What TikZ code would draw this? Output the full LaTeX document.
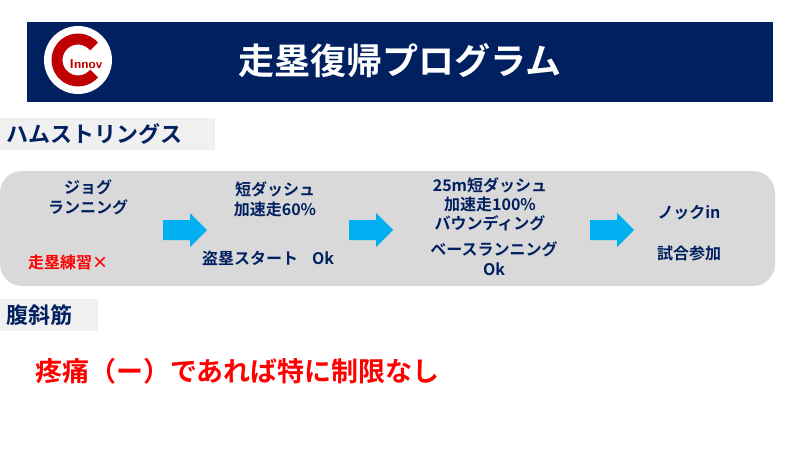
\documentclass[tikz,border=0pt]{standalone}
\usepackage{fontspec}
\setmainfont{Noto Sans CJK JP}[BoldFont={* Bold}]
\newfontfamily\jpb{Noto Sans CJK JP Bold}
\definecolor{navy}{RGB}{0,32,96}
\definecolor{band}{RGB}{217,217,217}
\definecolor{lab}{RGB}{240,240,240}
\definecolor{cyanarr}{RGB}{0,176,240}
\definecolor{logored}{RGB}{192,0,0}
\begin{document}
\begin{tikzpicture}[x=1pt,y=-1pt,
  txt/.style={text=navy,font=\jpb\fontsize{16}{20}\selectfont,align=center,inner sep=0},
  redt/.style={text=red,font=\jpb\fontsize{16}{20}\selectfont,inner sep=0},
  arr/.style={fill=cyanarr,draw=none}]
\useasboundingbox (0,0) rectangle (800,450);
\fill[white] (0,0) rectangle (800,450);
% title bar
\fill[navy] (27,22) rectangle (773,102);
\node[inner sep=0,text=white,font=\jpb\fontsize{36}{40}\selectfont] (title) at (400,61) {走塁復帰プログラム};
% logo
\begin{scope}[shift={(78,60)},y=1pt]
\fill[white] (0,0) circle (34);
\draw[logored,line width=11] (40:21) arc[start angle=40,end angle=320,radius=21];
\end{scope}
\node[inner sep=0.5,fill=white,text=logored,font=\bfseries\sffamily\fontsize{13}{14}\selectfont] (logo) at (86,64) {Innov};
% section labels
\fill[lab] (0,118) rectangle (215,150);
\node[anchor=west,txt,font=\jpb\fontsize{22}{26}\selectfont] (ham) at (6,134) {ハムストリングス};
\fill[band,rounded corners=22] (0,171) rectangle (775,286);
% col1
\node[txt] (c1) at (88,197) {ジョグ\\ランニング};
\node[redt] (c1b) at (68,262) {走塁練習\texttimes};
% arrows
\foreach \x/\n in {163/a1,349/a2,590/a3}{
  \fill[arr] (\x,220) -- (\x+27,220) -- (\x+27,213) -- (\x+44,230) -- (\x+27,247) -- (\x+27,240) -- (\x,240) -- cycle;}
% col2
\node[txt] (c2) at (275,199) {短ダッシュ\\加速走60\%};
\node[txt] (c2b) at (268,258) {盗塁スタート\hspace{14pt}Ok};
% col3
\node[txt,font=\jpb\fontsize{16}{19}\selectfont] (c3) at (490,204) {25m短ダッシュ\\加速走100\%\\バウンディング};
\node[txt] (c3b) at (494,259) {ベースランニング\\Ok};
% col4
\node[txt] (c4) at (689,213) {ノックin};
\node[txt] (c4b) at (689,253) {試合参加};
% abdominal
\fill[lab] (0,299) rectangle (98,331);
\node[anchor=west,txt,font=\jpb\fontsize{22}{26}\selectfont] (abd) at (6,315) {腹斜筋};
\node[anchor=west,text=red,inner sep=0,font=\jpb\fontsize{27}{30}\selectfont] (note) at (35,371) {疼痛（ー）であれば特に制限なし};
\end{tikzpicture}
\end{document}
